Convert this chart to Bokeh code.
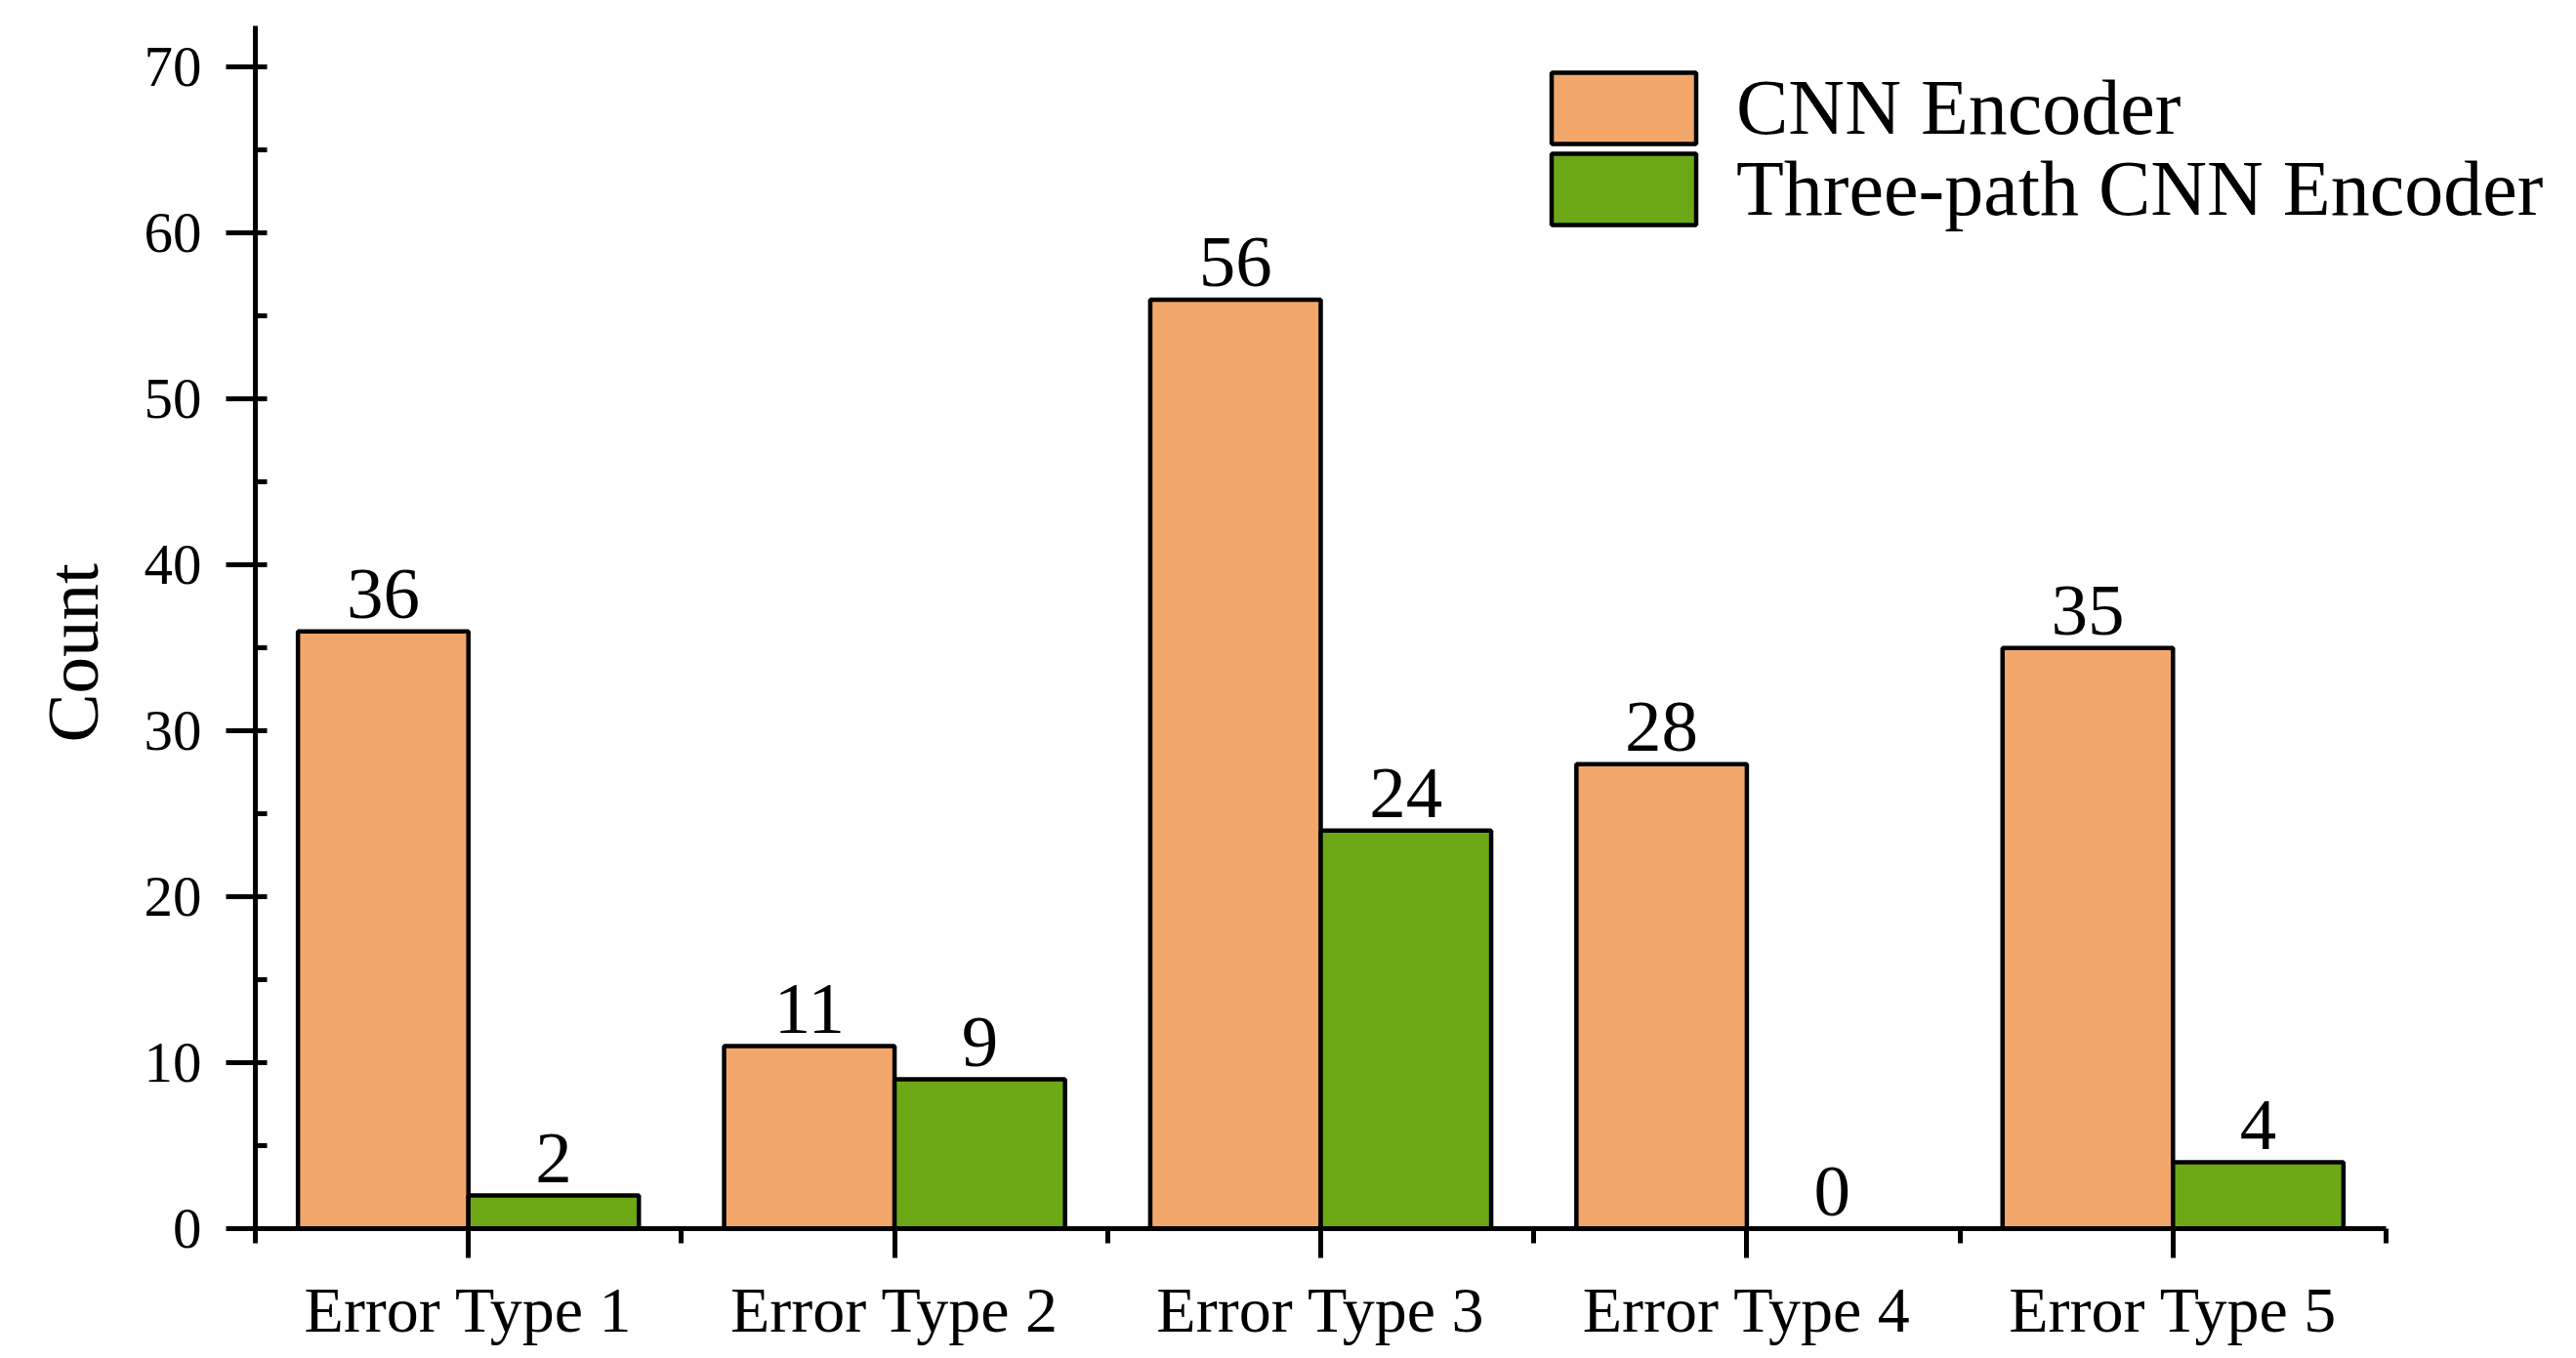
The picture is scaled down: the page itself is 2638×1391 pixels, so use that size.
import numpy as np
from bokeh.plotting import figure
from bokeh.models import (ColumnDataSource, Range1d, FixedTicker, SingleIntervalTicker,
                          CustomJSTickFormatter, Legend, LegendItem, Title)
from bokeh.core.properties import value
from bokeh.embed import file_html
from bokeh.resources import INLINE

# ---- data ----
categories = ["Error Type 1", "Error Type 2", "Error Type 3", "Error Type 4", "Error Type 5"]
cnn_encoder = [36, 11, 56, 28, 35]
three_path_cnn = [2, 9, 24, 0, 4]
series_names = ["CNN Encoder", "Three-path CNN Encoder"]
y_label = "Count"
y_max = 72.5

ORANGE = "#F3A66A"
GREEN = "#6CA816"
SERIF = "Liberation Serif"

n = len(categories)
centers = np.arange(n) + 0.5
bar_w = 0.4
x_orange = centers - bar_w / 2
x_green = centers + bar_w / 2

src1 = ColumnDataSource(dict(x=x_orange, top=cnn_encoder, lbl=[str(v) for v in cnn_encoder]))
src2 = ColumnDataSource(dict(x=x_green, top=three_path_cnn, lbl=[str(v) for v in three_path_cnn]))

W, H = 2636, 1388
LEFT, TOP, BOTTOM = 261, 26, 130
FRAME_W = W - LEFT
PX_PER_X = 436.4          # frame pixels per category
p = figure(width=W, height=H, output_backend="svg", toolbar_location=None,
           x_range=Range1d(0, FRAME_W / PX_PER_X), y_range=Range1d(0, y_max),
           min_border_left=LEFT, min_border_right=0,
           min_border_top=TOP, min_border_bottom=BOTTOM)
p.outline_line_color = None
p.xgrid.visible = False
p.ygrid.visible = False

r1 = p.vbar(x="x", top="top", width=bar_w, bottom=0, source=src1,
            fill_color=ORANGE, line_color="black", line_width=4.5)
r2 = p.vbar(x="x", top="top", width=bar_w, bottom=0, source=src2,
            fill_color=GREEN, line_color="black", line_width=4.5)

for s in (src1, src2):
    p.text(x="x", y="top", text="lbl", source=s, text_font=value(SERIF),
           text_font_size=value("75px"), text_align="center", text_baseline="alphabetic",
           y_offset=-38, text_color="black")

# x axis
xa = p.xaxis[0]
xa.ticker = FixedTicker(ticks=list(centers), minor_ticks=list(np.arange(n + 1)))
xa.formatter = CustomJSTickFormatter(args=dict(labels=categories),
                                     code="return labels[Math.floor(tick)];")
xa.bounds = (0, n)
xa.axis_line_width = 5
xa.major_tick_line_width = 5
xa.minor_tick_line_width = 5
xa.major_tick_out = 30
xa.major_tick_in = 0
xa.minor_tick_out = 15
xa.minor_tick_in = 0
xa.major_label_text_font = SERIF
xa.major_label_text_font_size = "66px"
xa.major_label_standoff = 16
xa.major_label_text_color = "black"

# y axis
ya = p.yaxis[0]
ya.ticker = SingleIntervalTicker(interval=10, num_minor_ticks=2)
ya.axis_line_width = 5
ya.major_tick_line_width = 5
ya.minor_tick_line_width = 5
ya.major_tick_out = 30
ya.major_tick_in = 0
ya.minor_tick_out = 0
ya.minor_tick_in = 12
ya.major_label_text_font = SERIF
ya.major_label_text_font_size = "59px"
ya.major_label_standoff = 25
ya.major_label_text_color = "black"

# y-axis title, drawn as a side title so it can be nudged along the axis
p.add_layout(Title(text=y_label, align="left", offset=498, standoff=58,
                   text_font=SERIF, text_font_size="75px", text_font_style="normal",
                   text_color="black"), "left")

# one legend per row so that the row pitch matches the reference
for item_label, rend, loc in ((series_names[0], r1, (1309, 1102)),
                              (series_names[1], r2, (1309, 1019))):
    lg = Legend(items=[LegendItem(label=item_label, renderers=[rend])], location=loc)
    lg.glyph_width = 185
    lg.glyph_height = 91
    lg.label_text_font = SERIF
    lg.label_text_font_size = "80px"
    lg.label_text_color = "black"
    lg.label_standoff = 23
    lg.padding = 0
    lg.margin = 0
    lg.border_line_color = None
    lg.background_fill_alpha = 0
    p.add_layout(lg)

open("out.html", "w").write(file_html(p, INLINE))
